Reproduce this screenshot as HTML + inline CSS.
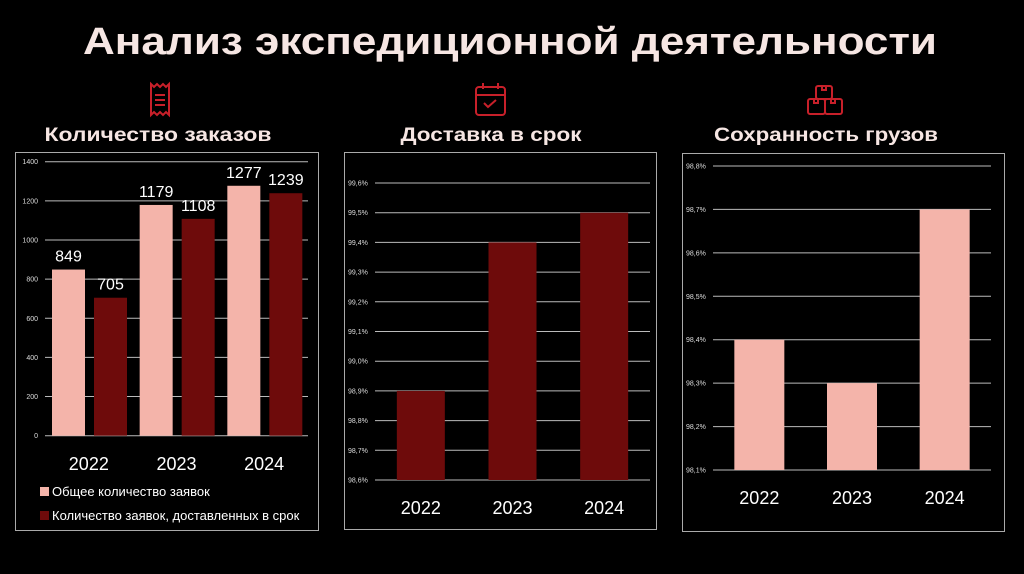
<!DOCTYPE html>
<html><head><meta charset="utf-8">
<style>
html,body{margin:0;padding:0;background:#000;}
svg{display:block;}
text{font-family:"Liberation Sans","DejaVu Sans",sans-serif;}
</style></head>
<body>
<svg id="s" width="1024" height="574" viewBox="0 0 1024 574" xmlns="http://www.w3.org/2000/svg">
<rect width="1024" height="574" fill="#000"/>
<text x="510" y="54" text-anchor="middle" font-size="38" font-weight="bold" fill="#f6e6e3" textLength="854" lengthAdjust="spacingAndGlyphs">Анализ экспедиционной деятельности</text>

<g fill="none" stroke="#c8202a" stroke-width="2">
<path d="M151,84 l3,3 3,-3 3,3 3,-3 3,3 3,-3 v31 l-3,-3 -3,3 -3,-3 -3,3 -3,-3 -3,3 z"/>
<path d="M155,95 h10 M155,100 h10 M155,105 h10"/>
</g>
<g fill="none" stroke="#c8202a" stroke-width="2">
<rect x="476" y="87" width="29" height="28" rx="3"/>
<path d="M476,95 h29 M483,83 v6 M498,83 v6 M484,103 l4,4 8,-7"/>
</g>
<g fill="none" stroke="#c8202a" stroke-width="2">
<rect x="816" y="86" width="16" height="13" rx="2"/>
<rect x="808" y="99" width="17" height="15" rx="2"/>
<rect x="825" y="99" width="17" height="15" rx="2"/>
<path d="M822,86 v4 h4 v-4 M814,99 v4 h4 v-4 M831,99 v4 h4 v-4"/>
</g>

<text x="158" y="141" text-anchor="middle" font-size="19" font-weight="bold" fill="#f6e6e3" textLength="227" lengthAdjust="spacingAndGlyphs">Количество заказов</text>
<text x="491" y="141" text-anchor="middle" font-size="19" font-weight="bold" fill="#f6e6e3" textLength="181" lengthAdjust="spacingAndGlyphs">Доставка в срок</text>
<text x="826" y="141" text-anchor="middle" font-size="19" font-weight="bold" fill="#f6e6e3" textLength="224" lengthAdjust="spacingAndGlyphs">Сохранность грузов</text>

<rect x="15.5" y="152.5" width="303" height="378" fill="none" stroke="#aaa"/>
<rect x="344.5" y="152.5" width="312" height="377" fill="none" stroke="#aaa"/>
<rect x="682.5" y="153.5" width="322" height="378" fill="none" stroke="#aaa"/>

<g id="c1"></g><g id="c2"></g><g id="c3"></g>

<rect x="40" y="487" width="9" height="9" fill="#f4b4aa"/>
<text x="52" y="496" font-size="13" fill="#fff">Общее количество заявок</text>
<rect x="40" y="511" width="9" height="9" fill="#6e0b0b"/>
<text x="52" y="520" font-size="13" fill="#fff">Количество заявок, доставленных в срок</text>
</svg>
<script>
const years = ["2022","2023","2024"];
const totalOrders = [849,1179,1277];
const onTimeOrders = [705,1108,1239];
const orderTicks = [0,200,400,600,800,1000,1200,1400];
const deliveryValues = [98.9,99.4,99.5];
const deliveryTicks = [98.6,98.7,98.8,98.9,99.0,99.1,99.2,99.3,99.4,99.5,99.6];
const safetyValues = [98.4,98.3,98.7];
const safetyTicks = [98.1,98.2,98.3,98.4,98.5,98.6,98.7,98.8];

const NS="http://www.w3.org/2000/svg";
function mk(tag,attrs,parent){const e=document.createElementNS(NS,tag);for(const k in attrs)e.setAttribute(k,attrs[k]);parent.appendChild(e);return e;}
const PINK="#f4b4aa", DARK="#6e0b0b";

(function(){
  const g=document.getElementById('c1');
  const y=v=>435.7-(v-0)*(435.7-161.7)/1400;
  const x0=45,x1=308,band=(x1-x0)/years.length;
  orderTicks.forEach(t=>{
    const l=mk('line',{x1:x0,x2:x1,y1:y(t),y2:y(t),stroke:'#bbb','stroke-width':1},g);
    
    
    const tx=mk('text',{x:38,y:y(t)+2.5,'text-anchor':'end','font-size':7,fill:'#ddd'},g);
    tx.textContent=t;
    
    
  });
  years.forEach((yr,i)=>{
    const cx=x0+band*i;
    [[totalOrders[i],PINK,7],[onTimeOrders[i],DARK,49]].forEach(([v,c,off],j)=>{
      const r=mk('rect',{x:cx+off,y:y(v),width:33,height:y(0)-y(v),fill:c},g);
      
      
      const lb=mk('text',{x:cx+off+16.5,y:y(v)-8,'text-anchor':'middle','font-size':16,fill:'#fff'},g);
      lb.textContent=v;
      
      
    });
    const t=mk('text',{x:cx+band/2,y:470,'text-anchor':'middle','font-size':18,fill:'#fff'},g);
    t.textContent=yr;
    
    
  });
})();

function pctChart(id,vals,ticks,y0px,y1px,x0,x1,labX,barW,color,catY,name){
  const g=document.getElementById(id);
  const lo=ticks[0],hi=ticks[ticks.length-1];
  const y=v=>y0px-(v-lo)*(y0px-y1px)/(hi-lo);
  const band=(x1-x0)/years.length;
  ticks.forEach(t=>{
    const l=mk('line',{x1:x0,x2:x1,y1:y(t),y2:y(t),stroke:'#bbb','stroke-width':1},g);
    
    
    const tx=mk('text',{x:labX,y:y(t)+2.5,'font-size':7,fill:'#ddd'},g);
    tx.textContent=t.toFixed(1).replace('.',',')+'%';
    
    
  });
  years.forEach((yr,i)=>{
    const cx=x0+band*(i+0.5);
    const r=mk('rect',{x:cx-barW/2,y:y(vals[i]),width:barW,height:y(lo)-y(vals[i]),fill:color},g);
    
    
    const t=mk('text',{x:cx,y:catY,'text-anchor':'middle','font-size':18,fill:'#fff'},g);
    t.textContent=yr;
    
    
  });
}
pctChart('c2',deliveryValues,deliveryTicks,480,183,375,650,348,48,DARK,514,'delivery');
pctChart('c3',safetyValues,safetyTicks,470,166,713,991,686,50,PINK,504,'safety');
</script>
</body></html>
